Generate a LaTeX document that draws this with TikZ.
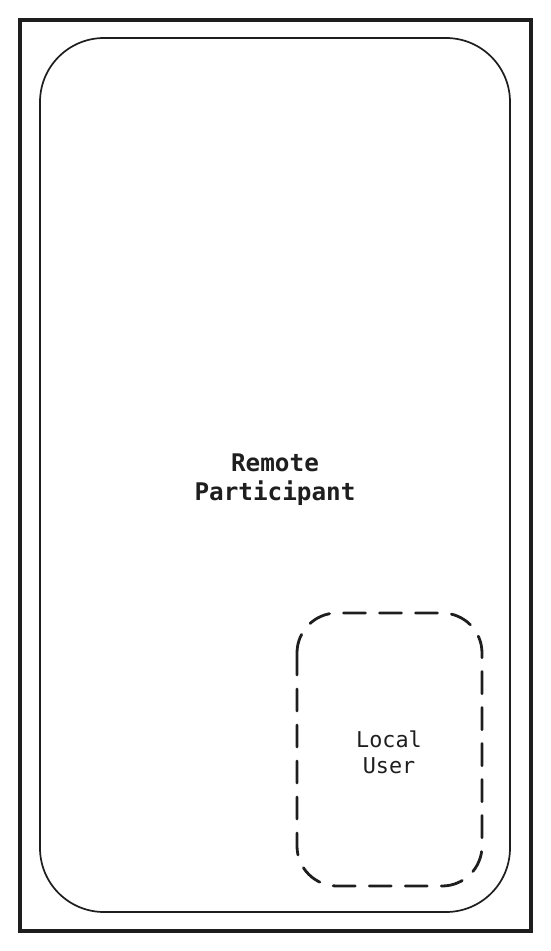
\documentclass[tikz,border=0pt]{standalone}
\usepackage{fontspec}
\setmonofont{DejaVu Sans Mono}
\definecolor{ink}{HTML}{1E1E1E}
\begin{document}
\begin{tikzpicture}[x=1pt,y=-1pt,
  frame/.style={draw=ink,line width=3.5pt},
  screen/.style={draw=ink,line width=1.7pt,rounded corners=64pt},
  pip/.style={draw=ink,line width=2.8pt,rounded corners=40pt,dash pattern=on 22pt off 14pt,line cap=round},
  lbl/.style={text=ink,font=\ttfamily,align=center,inner sep=0pt}]
\useasboundingbox (0,0) rectangle (551,951);
\draw[frame] (20,20) rectangle (531,931);
\draw[screen] (40,38) rectangle (510,912);
\draw[pip] (297,613) rectangle (482,886);
\node[lbl,font=\ttfamily\bfseries\fontsize{24.3}{29}\selectfont] (remote) at (275,480) {Remote\\Participant};
\node[lbl,font=\ttfamily\fontsize{21.8}{26}\selectfont] (local) at (389,752) {Local\\User};
\end{tikzpicture}
\end{document}
